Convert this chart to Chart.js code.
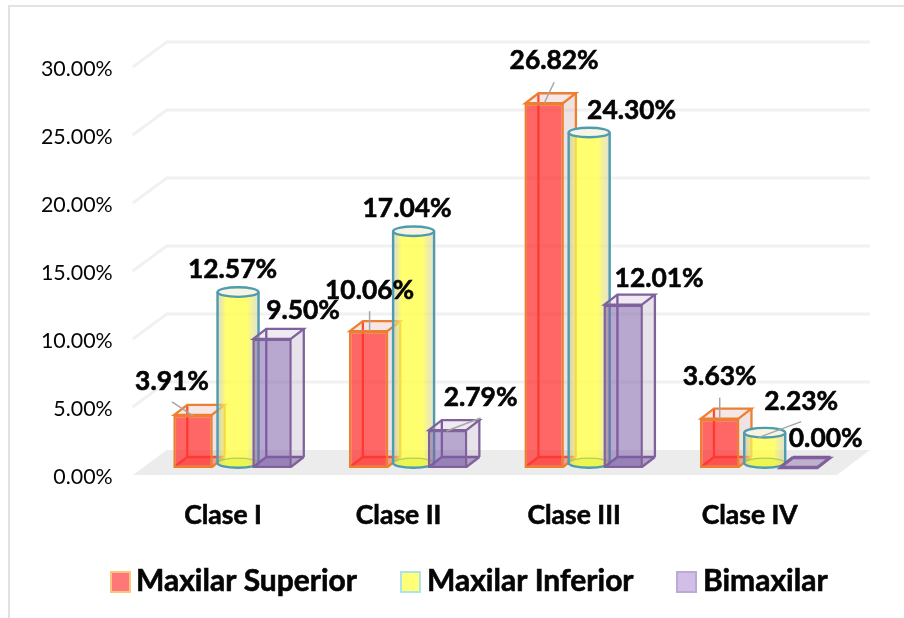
<!DOCTYPE html>
<html><head><meta charset="utf-8">
<style>
html,body{margin:0;padding:0;background:#fff;width:904px;height:618px;overflow:hidden}
#wrap{position:absolute;left:0;top:0;width:904px;height:618px;filter:blur(0.45px)}
canvas{display:block}
</style>
<script src="https://cdn.jsdelivr.net/npm/chart.js@4"></script>
</head><body>
<div id="wrap"><canvas id="c" width="904" height="618"></canvas></div>
<script>
const categories = ['Clase I','Clase II','Clase III','Clase IV'];
const seriesNames = ['Maxilar Superior','Maxilar Inferior','Bimaxilar'];
const maxilarSuperior = [3.91,10.06,26.82,3.63];
const maxilarInferior = [12.57,17.04,24.30,2.23];
const bimaxilar = [9.50,2.79,12.01,0.00];
const yTicksStep = 5;
// label placement relative to each bar's top-centre
const labelOffsets = [
  [[-21,-33],[1,-41],[10,-43],[0,-42]],
  [[0,-28],[-1,-28],[48,-27],[42,-36]],
  [[31,-28],[33,-33],[36,-26],[27,-30]]
];
const leaders = [
  [[-21,-13,0,1],[1,-20,1,0],[10,-21,0,0],[0,-21,0,0]],
  [null,null,null,[42,-16,-1,0]],
  [null,[33,-12,-1,1],null,null]
];
const BLACK='#050505', LABEL_FONT='bold 26.4px Lato', DX=13, DY=-10;

const box3d = {
  red:{edge:'#ec7f30',inner:'#fb5030',side:'rgba(205,165,165,.32)',top:'rgba(235,190,190,.38)',floor:'rgba(255,60,40,.35)'},
  purple:{edge:'#7f629c',inner:'#7a5c9c',side:'rgba(190,175,200,.36)',top:'rgba(205,190,215,.32)',floor:'rgba(125,95,165,.45)'}
};
function poly(ctx,pts,fill,stroke,lw){
  ctx.beginPath();pts.forEach((p,i)=>i?ctx.lineTo(p[0],p[1]):ctx.moveTo(p[0],p[1]));ctx.closePath();
  if(fill){ctx.fillStyle=fill;ctx.fill();}
  if(stroke){ctx.strokeStyle=stroke;ctx.lineWidth=lw||2;ctx.stroke();}
}
function line(ctx,a,b,c,d,col,lw){ctx.beginPath();ctx.moveTo(a,b);ctx.lineTo(c,d);ctx.strokeStyle=col;ctx.lineWidth=lw||2.3;ctx.stroke();}
function drawBoxBack(ctx,el,st){
  const l=el.x-el.width/2+1,r=el.x+el.width/2-1,t=el.y,b=el.base-1;
  poly(ctx,[[r,t],[r+DX,t+DY],[r+DX,b+DY],[r,b]],st.side);
  poly(ctx,[[l,b],[l+DX,b+DY],[r+DX,b+DY],[r,b]],st.floor);
  poly(ctx,[[l,t],[l+DX,t+DY],[r+DX,t+DY],[r,t]],st.top);
  line(ctx,l+DX,t+DY,l+DX,b+DY,st.inner);
  line(ctx,l+DX,b+DY,r+DX,b+DY,st.inner);
  line(ctx,l,b,l+DX,b+DY,st.inner);
  line(ctx,r,b,r+DX,b+DY,st.edge);
  line(ctx,r+DX,t+DY,r+DX,b+DY,st.edge);
  poly(ctx,[[l,t],[l+DX,t+DY],[r+DX,t+DY],[r,t]],null,st.edge,2.3);
  if(Math.abs(t-b)<3) line(ctx,l,b,r,b,st.edge);
}
function drawCylinder(ctx,el){
  const cx=el.x+5.5,rx=20.5,ry=4.8,yb=el.base-5,yt=el.y-5,l=cx-rx,r=cx+rx;
  const g=ctx.createLinearGradient(l,0,r,0);
  g.addColorStop(0,'rgba(196,196,170,.55)');g.addColorStop(.2,'rgba(255,255,70,.78)');
  g.addColorStop(.72,'rgba(255,255,70,.78)');g.addColorStop(1,'rgba(205,205,175,.55)');
  ctx.beginPath();ctx.moveTo(l,yt);ctx.lineTo(l,yb);ctx.ellipse(cx,yb,rx,ry,0,Math.PI,0,true);ctx.lineTo(r,yt);
  ctx.ellipse(cx,yt,rx,ry,0,0,Math.PI,true);ctx.closePath();ctx.fillStyle=g;ctx.fill();
  ctx.beginPath();ctx.ellipse(cx,yb,rx,ry,0,0,Math.PI*2);ctx.fillStyle='rgba(225,240,60,.55)';ctx.fill();
  ctx.beginPath();ctx.ellipse(cx,yb,rx,ry,0,Math.PI,0,false);ctx.strokeStyle='rgba(150,190,90,.7)';ctx.lineWidth=1.2;ctx.stroke();
  ctx.beginPath();ctx.ellipse(cx,yt,rx,ry,0,0,Math.PI*2);ctx.fillStyle='#f6f5e4';ctx.fill();
  ctx.strokeStyle='#4f9bb0';ctx.lineWidth=2.4;
  ctx.beginPath();ctx.ellipse(cx,yt,rx,ry,0,0,Math.PI*2);ctx.stroke();
  ctx.beginPath();ctx.moveTo(l,yt);ctx.lineTo(l,yb);ctx.ellipse(cx,yb,rx,ry,0,Math.PI,0,true);ctx.lineTo(r,yt);ctx.stroke();
}
const threeD = {
  id:'threeD',
  beforeDatasetsDraw(chart){
    const ctx=chart.ctx,a=chart.chartArea,ys=chart.scales.y;
    ctx.save();
    const fl=a.left-12,bl=a.left+22,fr=a.right-10,br=a.right+23,base=ys.getPixelForValue(0);
    ctx.fillStyle='#e2e2e2';ctx.fillRect(9,5,895,2);ctx.fillRect(8,5,2,613);
    poly(ctx,[[fl,base+7],[bl,base-18],[br,base-18],[fr,base+7]],'#ececec');
    ys.ticks.forEach(t=>{
      if(t.value===0)return;
      const y=ys.getPixelForValue(t.value);
      ctx.beginPath();ctx.moveTo(fl,y+7);ctx.lineTo(bl,y-18);ctx.lineTo(br,y-18);
      ctx.strokeStyle='#f1f1f1';ctx.lineWidth=3;ctx.stroke();
    });
    ctx.restore();
  },
  // the default pass paints the first dataset last; the depth here needs left-to-right painting
  beforeDatasetDraw(){ return false; },
  afterDatasetsDraw(chart){
    const ctx=chart.ctx;ctx.save();
    chart.data.datasets.forEach((ds,i)=>{
      const meta=chart.getDatasetMeta(i);
      if(i===0) meta.data.forEach(el=>drawBoxBack(ctx,el,box3d.red));
      if(i===2) meta.data.forEach(el=>drawBoxBack(ctx,el,box3d.purple));
      meta.controller.draw();
      if(i===1) meta.data.forEach(el=>drawCylinder(ctx,el));
    });
    chart.data.datasets.forEach((ds,i)=>{
      chart.getDatasetMeta(i).data.forEach((el,j)=>{
        const ld=leaders[i][j];
        if(ld) line(ctx,el.x+ld[0],el.y+ld[1],el.x+ld[2],el.y+ld[3],'#a6a6a6',1.5);
      });
    });
    ctx.fillStyle=BLACK;ctx.strokeStyle=BLACK;ctx.lineWidth=.6;ctx.font=LABEL_FONT;ctx.textAlign='center';ctx.textBaseline='middle';
    chart.data.datasets.forEach((ds,i)=>{
      chart.getDatasetMeta(i).data.forEach((el,j)=>{
        const o=labelOffsets[i][j],txt=ds.data[j].toFixed(2)+'%';
        ctx.fillText(txt,el.x+o[0],el.y+o[1]);
        ctx.strokeText(txt,el.x+o[0],el.y+o[1]);
      });
    });
    const swatches=[[110,'#ff7878','#fdc680'],[400,'#ffff78','#aee3ea'],[676,'#d2bfe8','#bca9d6']];
    const textX=[136,427,703];
    ctx.textAlign='left';ctx.font='bold 30px Lato';
    seriesNames.forEach((n,i)=>{
      const s=swatches[i];
      ctx.fillStyle=s[1];ctx.fillRect(s[0]+1,572,19,20);
      ctx.strokeStyle=s[2];ctx.lineWidth=2;ctx.strokeRect(s[0]+1,572,19,20);
      ctx.fillStyle=BLACK;ctx.strokeStyle=BLACK;ctx.lineWidth=.6;
      ctx.fillText(n,textX[i],581);ctx.strokeText(n,textX[i],581);
    });
    ctx.restore();
  }
};
new Chart(document.getElementById('c'),{
  type:'bar',
  data:{labels:categories,datasets:[
    {label:seriesNames[0],data:maxilarSuperior,backgroundColor:'rgba(255,50,50,.74)',borderColor:'#ec7f30',borderWidth:2.5,borderSkipped:false},
    {label:seriesNames[1],data:maxilarInferior,backgroundColor:'rgba(0,0,0,0)',borderWidth:0},
    {label:seriesNames[2],data:bimaxilar,backgroundColor:'rgba(125,95,165,.55)',borderColor:'#7f629c',borderWidth:2.5,borderSkipped:false}
  ]},
  options:{
    responsive:false,animation:false,
    layout:{padding:{top:60,right:57,left:0,bottom:0}},
    plugins:{legend:{display:false},tooltip:{enabled:false}},
    datasets:{bar:{categoryPercentage:0.675,barPercentage:1}},
    scales:{
      x:{grid:{display:false},border:{display:false},
        ticks:{color:BLACK,textStrokeColor:BLACK,textStrokeWidth:.6,font:{family:'Lato',weight:'bold',size:26.5},padding:24,labelOffset:-9.5,maxRotation:0},
        afterFit(s){s.height=150;}},
      y:{min:0,max:30,grid:{display:false},border:{display:false},
        ticks:{stepSize:yTicksStep,color:BLACK,font:{family:'Lato',size:21.4},padding:24,labelOffset:9.5,
          callback:v=>v.toFixed(2)+'%'},
        afterFit(s){s.width=144.75;}}
    }
  },
  plugins:[threeD]
});
</script>
</body></html>
